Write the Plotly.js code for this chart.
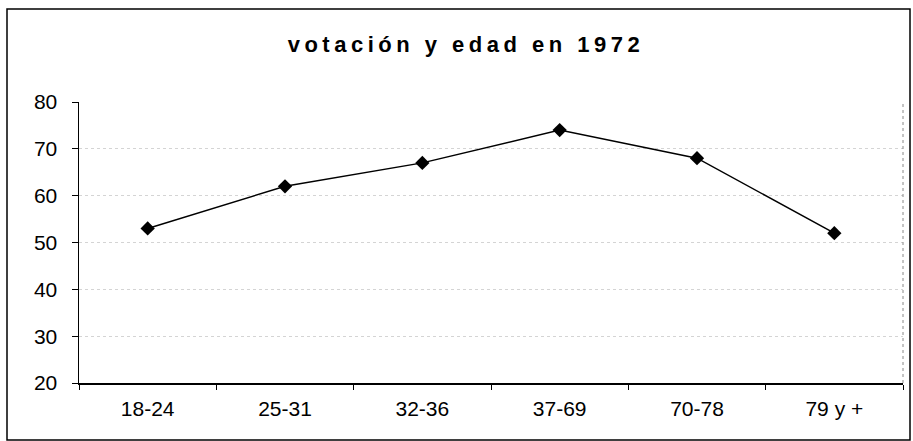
<!DOCTYPE html>
<html>
<head>
<meta charset="utf-8">
<script src="https://cdn.plot.ly/plotly-3.0.1.min.js"></script>
<style>
html,body{margin:0;padding:0;background:#fff;}
#chart{width:913px;height:441px;}
.gtitle{letter-spacing:4.5px;}
</style>
</head>
<body>
<div id="chart"></div>
<script>
const chartTitle = "votación y edad en 1972";
const categories = ["18-24", "25-31", "32-36", "37-69", "70-78", "79 y +"];
const votacion = [53, 62, 67, 74, 68, 52];
const yTicks = [20, 30, 40, 50, 60, 70, 80];

const trace = {
  type: "scatter",
  mode: "lines+markers",
  x: categories,
  y: votacion,
  line: {color: "#000", width: 1.5},
  marker: {symbol: "diamond", size: 11, color: "#000"},
  hoverinfo: "x+y",
  showlegend: false
};

const W = 913, H = 441;
const m = {l: 79, r: 10, t: 102, b: 58};
const pw = W - m.l - m.r, ph = H - m.t - m.b;
const px = v => (v - m.l) / pw;
const py = v => (H - m.b - v) / ph;

const layout = {
  width: W, height: H,
  margin: m,
  paper_bgcolor: "#fff",
  plot_bgcolor: "#fff",
  font: {family: "Liberation Sans, Arial, sans-serif", color: "#000", size: 21},
  title: {
    text: "<b>" + chartTitle + "</b>",
    font: {family: "Liberation Sans, Arial, sans-serif", size: 22, color: "#000"},
    x: 466 / W, xanchor: "center",
    y: 1 - 44 / H, yanchor: "middle"
  },
  xaxis: {
    type: "category",
    range: [-0.5, categories.length - 0.5],
    showgrid: false,
    showline: true, linecolor: "#000", linewidth: 1.5,
    ticks: "outside", ticklen: 5, tickcolor: "#000", tickwidth: 1,
    tickson: "boundaries",
    ticklabelstandoff: 6,
    tickfont: {size: 21},
    zeroline: false,
    fixedrange: true
  },
  yaxis: {
    range: [20, 80],
    tickvals: yTicks,
    showgrid: true, gridcolor: "#d4d4d4", griddash: "dot", gridwidth: 1,
    showline: true, linecolor: "#000", linewidth: 1.5,
    ticks: "outside", ticklen: 6, tickcolor: "#000", tickwidth: 1,
    ticklabelstandoff: 10,
    tickfont: {size: 21},
    zeroline: false,
    fixedrange: true
  },
  shapes: [
    {type: "line", xref: "paper", yref: "paper", x0: 1, x1: 1, y0: 0, y1: 1,
     line: {color: "#888", width: 1, dash: "dot"}},
    {type: "rect", xref: "paper", yref: "paper",
     x0: px(7), x1: px(910), y0: py(9), y1: py(440),
     line: {color: "#000", width: 1.5}, fillcolor: "rgba(0,0,0,0)", layer: "above"}
  ]
};

Plotly.newPlot("chart", [trace], layout, {displayModeBar: false, staticPlot: true});
</script>
</body>
</html>
